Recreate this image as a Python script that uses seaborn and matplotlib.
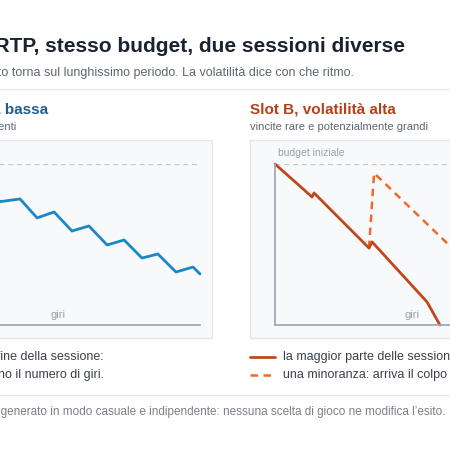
import matplotlib
matplotlib.use("Agg")
import matplotlib.pyplot as plt
import seaborn as sns
import pandas as pd
from matplotlib.patches import Rectangle

sns.set_theme(style="white")
plt.rcParams['font.family'] = ['Liberation Sans', 'DejaVu Sans']

# data (giri 0-100, budget % of initial)
a_giri = [0, 4, 10, 16, 22.2, 28.3, 35.5, 41.6, 47.7, 54.1, 60.2, 66.7, 72.8, 79.2, 84.9, 91.4, 97.5, 100]
a_budget = [100, 101, 93, 95, 86, 76.6, 78.3, 66.5, 70.2, 58.4, 61.5, 49.7, 52.8, 41.6, 44.1, 32.9, 36.0, 31.7]
b_giri = [0, 13.3, 14.0, 33.7, 34.8, 54.5, 59.1]
b_budget = [100, 79.5, 82.0, 47.8, 51.6, 14.3, 0]
b2_giri = [33.7, 35.5, 62.7, 85]
b2_budget = [47.8, 94.4, 49.1, 12]

W = H = 450
fig = plt.figure(figsize=(4.5, 4.5), dpi=100)
fig.patch.set_facecolor("white")

def fx(x): return x / W
def fy(y): return 1 - y / H
def T(x, y, s, **kw): fig.text(fx(x), fy(y), s, **kw)

def rect(x0, y0, x1, y1, **kw):
    fig.patches.append(Rectangle((fx(x0), fy(y1)), (x1 - x0) / W, (y1 - y0) / H,
                                 transform=fig.transFigure, zorder=-5, **kw))

dark = "#1b2333"; gray = "#5f6673"; lgray = "#9aa1ac"
blue = "#1f5f8b"; red = "#b5401a"

T(405, 47, "Stesso RTP, stesso budget, due sessioni diverse", ha="right", va="center",
  fontsize=15, fontweight="bold", color=dark)
T(354, 73, "Il denaro puntato torna sul lunghissimo periodo. La volatilità dice con che ritmo.",
  ha="right", va="center", fontsize=9, color=gray)
fig.add_artist(plt.Line2D([0, 1], [fy(89), fy(89)], color="#e6e8ec", lw=1, transform=fig.transFigure))

T(48, 109, "Slot A, volatilità bassa", ha="right", va="center", fontsize=11, fontweight="bold", color=blue)
T(16, 127, "vincite piccole e frequenti", ha="right", va="center", fontsize=8, color=gray)
T(250, 109, "Slot B, volatilità alta", ha="left", va="center", fontsize=11, fontweight="bold", color=red)
T(250, 127, "vincite rare e potenzialmente grandi", ha="left", va="center", fontsize=8, color=gray)

rect(-20, 140, 212, 338, facecolor="#f7f9fb", edgecolor="#e3e6ea", lw=1)
rect(250, 140, 480, 338, facecolor="#f7f9fb", edgecolor="#e3e6ea", lw=1)

def mkax(left):
    ax = fig.add_axes([fx(left), fy(325), 279 / W, 161 / H])
    ax.set_facecolor("none")
    ax.set_xlim(0, 100); ax.set_ylim(0, 100)
    ax.set_xticks([]); ax.set_yticks([])
    for s in ax.spines.values(): s.set_visible(False)
    ax.spines["bottom"].set_visible(True); ax.spines["bottom"].set_color("#a0a6b0")
    ax.spines["left"].set_visible(True); ax.spines["left"].set_color("#a0a6b0")
    ax.axhline(100, color="#c5cad2", lw=0.9, ls=(0, (4, 3)), zorder=1)
    ax.text(49, 3, "giri", ha="center", va="bottom", fontsize=8, color=lgray)
    return ax

axA = mkax(-79)
sns.lineplot(x=a_giri, y=a_budget, ax=axA, color="#1a87c6", lw=2, clip_on=False, sort=False)
axA.set_xlim(0, 100); axA.set_ylim(0, 100)
axA.set_xlabel(""); axA.set_ylabel("")

axB = mkax(275)
axB.text(1, 104, "budget iniziale", ha="left", va="bottom", fontsize=7.5, color=lgray)
sns.lineplot(x=b2_giri, y=b2_budget, ax=axB, color="#ef6a2a", lw=1.8, ls=(0, (3, 2.2)), sort=False)
sns.lineplot(x=b_giri, y=b_budget, ax=axB, color="#c1461b", lw=2, sort=False, clip_on=False)
axB.set_xlim(0, 100); axB.set_ylim(0, 100)
axB.set_xlabel(""); axB.set_ylabel("")

T(104, 357, "Slot A: perdite costanti, visibili fino alla fine della sessione:", ha="right", va="center", fontsize=9, color="#3a414d")
T(104, 375, "i piccoli ritorni prolungano il numero di giri.", ha="right", va="center", fontsize=9, color="#3a414d")
fig.add_artist(plt.Line2D([fx(250), fx(275)], [fy(357), fy(357)], color="#c1461b", lw=2, transform=fig.transFigure))
fig.add_artist(plt.Line2D([fx(250), fx(275)], [fy(375), fy(375)], color="#ef6a2a", lw=1.8, ls=(0, (3, 2.2)), transform=fig.transFigure))
T(283, 357, "la maggior parte delle sessioni: finisce prima", ha="left", va="center", fontsize=9, color="#3a414d")
T(283, 375, "una minoranza: arriva il colpo che rende", ha="left", va="center", fontsize=9, color="#3a414d")
fig.add_artist(plt.Line2D([0, 1], [fy(395), fy(395)], color="#e6e8ec", lw=1, transform=fig.transFigure))
T(445, 412, "Ogni giro è generato in modo casuale e indipendente: nessuna scelta di gioco ne modifica l’esito.",
  ha="right", va="center", fontsize=8.5, color="#7a808a")

fig.savefig("out.png", dpi=100)
